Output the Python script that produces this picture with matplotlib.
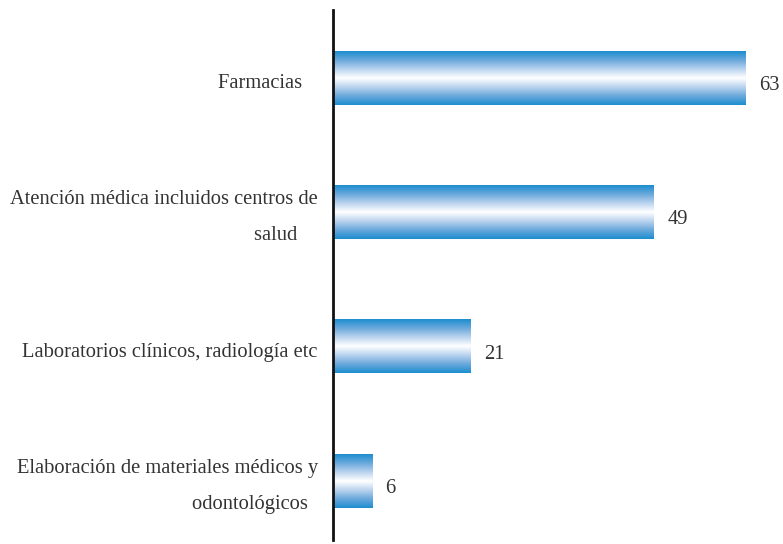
import matplotlib
matplotlib.use('Agg')
import matplotlib.pyplot as plt
import numpy as np
from matplotlib.colors import LinearSegmentedColormap

categories = [
    'Farmacias   ',
    'Atención médica incluidos centros de\nsalud    ',
    'Laboratorios clínicos, radiología etc',
    'Elaboración de materiales médicos y\nodontológicos  ',
]
values = [63, 49, 21, 6]

plt.rcParams['font.family'] = ['Liberation Serif', 'DejaVu Serif']

fig = plt.figure(figsize=(7.83, 5.44), dpi=100)
ax = fig.add_axes([333/783, 4/544, 450/783, 530/544])

# blue -> white -> blue vertical gradient
cmap = LinearSegmentedColormap.from_list(
    'bars', ['#ffffff', '#b9d3ee', '#6aa8dc', '#1c8ecf'])
grad = np.abs(np.linspace(-1, 1, 256)).reshape(-1, 1)

h = 0.40
pos = np.arange(len(values))
for y, v, lab in zip(pos, values, categories):
    ax.imshow(grad, cmap=cmap, aspect='auto', interpolation='bicubic',
              extent=(0, v, y + h/2, y - h/2), zorder=2)
    ax.annotate(str(v), (v, y), xytext=(9.5, -5.5), textcoords='offset points',
                ha='left', va='center', fontsize=14.8, color='#333333')
    ax.annotate(lab, (0, y), xytext=(-11, -4), textcoords='offset points',
                ha='right', va='center', multialignment='right',
                fontsize=14.8, color='#333333', linespacing=2.22,
                annotation_clip=False)

ax.set_xlim(0, 68.7)
ax.set_ylim(3.44, -0.506)
ax.set_xticks([])
ax.set_yticks([])
for s in ['top', 'right', 'bottom']:
    ax.spines[s].set_visible(False)
ax.spines['left'].set_linewidth(2)
ax.spines['left'].set_color('#111111')

fig.savefig('out.png', dpi=100)
